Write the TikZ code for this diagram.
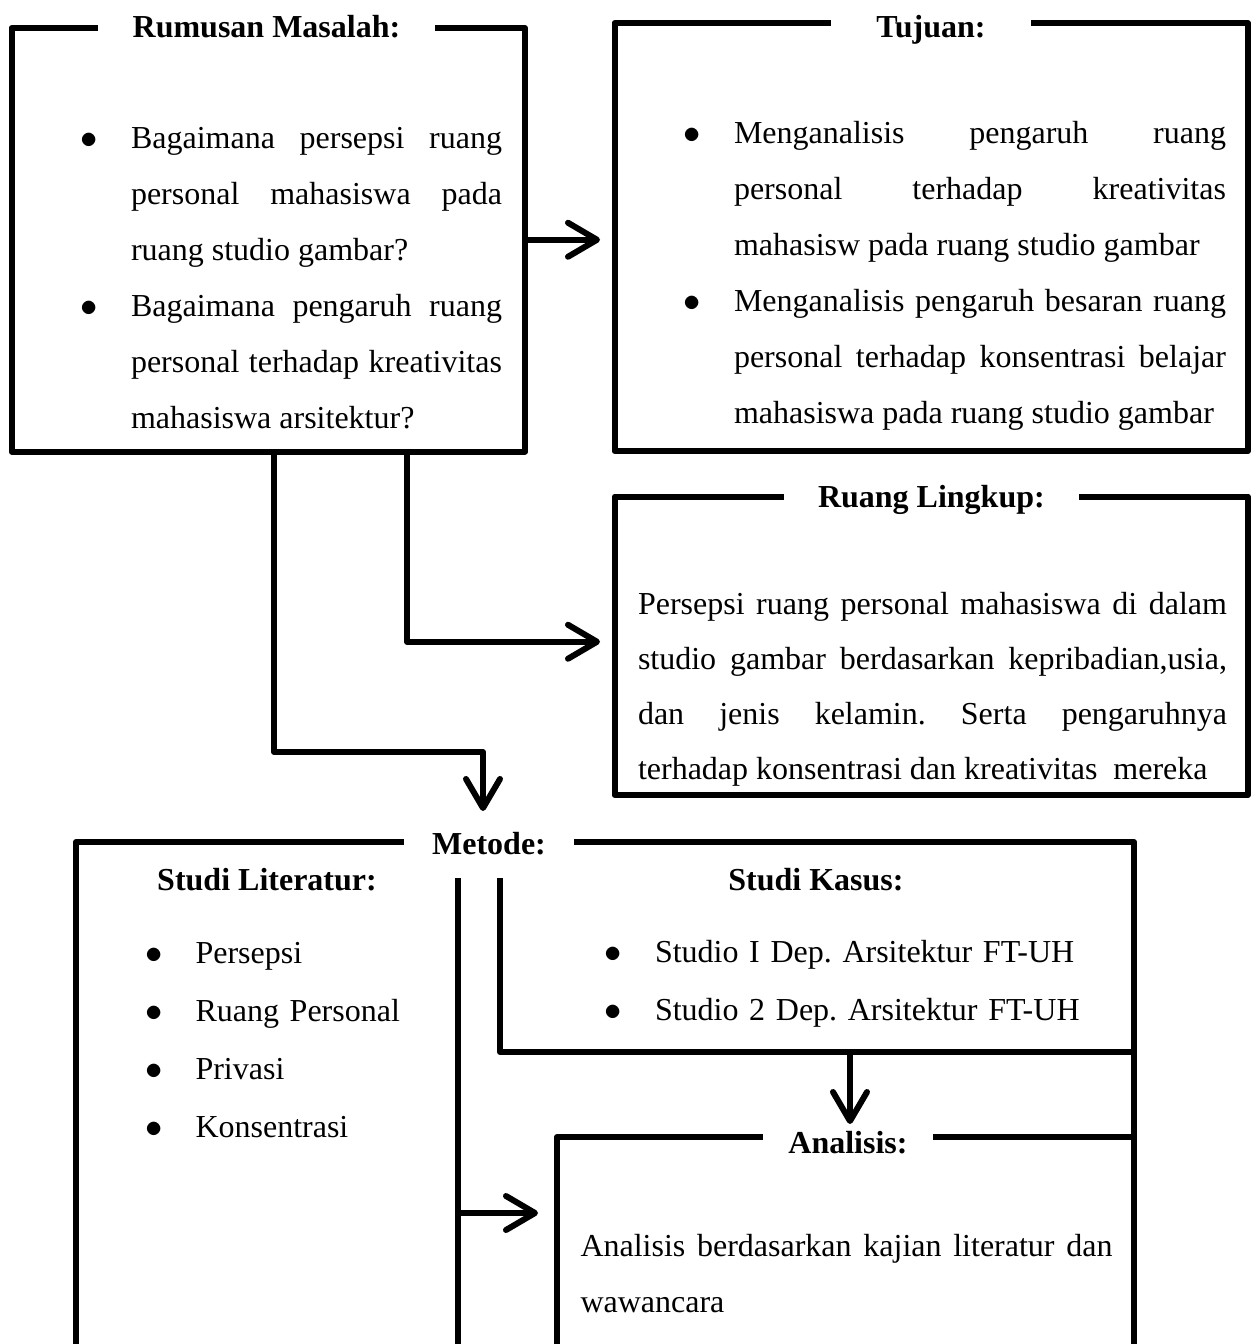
\documentclass[tikz,border=0pt]{standalone}
\usepackage{fontspec}
\setmainfont{Liberation Serif}
\usetikzlibrary{arrows.meta}
\frenchspacing
\newcommand\butir{\leavevmode\hangindent=23.5pt\hangafter=1\makebox[23.5pt][l]{\hspace{-1.75pt}$\bullet$}}

\begin{document}
\begin{tikzpicture}[x=.5pt,y=-.5pt,line width=3pt,line join=round,
      >={Straight Barb[length=14.5pt,width=17pt,round]},
      kotak/.style={draw,inner sep=0pt},
      judul/.style={fill=white,inner ysep=1pt,anchor=base,font=\fontsize{16}{28}\selectfont\bfseries},
      isi/.style={inner sep=0pt,anchor=base west,align=justify,font=\fontsize{16}{28}\selectfont},
      daftar/.style={inner sep=0pt,anchor=base west,align=left,text width=300pt,font=\fontsize{16}{29}\selectfont}]
      \useasboundingbox (0,0) rectangle (1253,1344);
      \clip (0,0) rectangle (1253,1344);
      \node[kotak,minimum width=256.75pt,minimum height=211.75pt] (rumusan) at (268.25,239.75) {};
      \node[kotak,minimum width=316.75pt,minimum height=214pt] (tujuan) at (931.25,237) {};
      \node[kotak,minimum width=316.75pt,minimum height=149.25pt] (lingkup) at (931.25,645.75) {};
      \node[kotak,minimum width=529pt,minimum height=289pt] (metode) at (605,1131) {};
      \node[kotak,minimum width=288.5pt,minimum height=141.5pt] (analisis) at (845.5,1278.5) {};
      \node[judul,inner xsep=17.5pt] (t-rumusan) at (266.5,37) {Rumusan Masalah:};
      \node[judul,inner xsep=22.5pt] (t-tujuan) at (931,37) {Tujuan:};
      \node[judul,inner xsep=17pt] (t-lingkup) at (931.4,507) {Ruang Lingkup:};
      \node[judul,inner xsep=14pt] (t-metode) at (489,854) {Metode:};
      \node[judul,inner xsep=12.5pt] (t-analisis) at (848,1153) {Analisis:};
      \node[judul,fill=none] (t-literatur) at (267,890) {Studi Literatur:};
      \node[judul,fill=none] (t-kasus) at (816,890) {Studi Kasus:};
      \node[isi,text width=209pt] (isi-rumusan) at (81,148)
            {\butir Bagaimana persepsi ruang\linebreak personal mahasiswa pada\linebreak ruang studio gambar?\par
             \butir Bagaimana pengaruh ruang\linebreak personal terhadap kreativitas\linebreak mahasiswa arsitektur?\par};
      \node[isi,text width=269.5pt] (isi-tujuan) at (684,143)
            {\butir Menganalisis pengaruh ruang\linebreak personal terhadap kreativitas\linebreak mahasisw pada ruang studio gambar\par
             \butir Menganalisis pengaruh besaran ruang\linebreak personal terhadap konsentrasi belajar\linebreak mahasiswa pada ruang studio gambar\par};
      \node[isi,text width=294.5pt,font=\fontsize{16}{27.5}\selectfont] (isi-lingkup) at (635,614)
            {Persepsi ruang personal mahasiswa di dalam\linebreak studio gambar berdasarkan kepribadian,usia,\linebreak
             dan jenis kelamin. Serta pengaruhnya\linebreak terhadap konsentrasi dan kreativitas\ \ mereka};
      \node[isi,text width=266pt] (isi-analisis) at (577.5,1256)
            {Analisis berdasarkan kajian literatur dan\linebreak wawancara};
      \node[daftar] (isi-literatur) at (145.5,963)
            {\butir Persepsi\par\butir Ruang Personal\par\butir Privasi\par\butir Konsentrasi\par};
      \node[daftar] (isi-kasus) at (605,962)
            {\butir Studio I Dep. Arsitektur FT-UH\par\butir Studio 2 Dep. Arsitektur FT-UH\par};
      \coordinate (k0) at (407,642);
      \coordinate (k1) at (274,752);
      \coordinate (k2) at (483,752);
      \coordinate (g1) at (458,878);
      \coordinate (g2) at (458,1213);
      \coordinate (s1) at (500,878);
      \coordinate (s2) at (500,1052);
      \coordinate (s3) at (850,1052);
      \draw[->,shorten >=5.75pt] (rumusan.east) -- (rumusan.east -| tujuan.west);
      \draw[->,shorten >=5.75pt] (rumusan.south -| k0) |- ([yshift=2pt]lingkup.west);
      \draw[->,shorten >=14pt] (rumusan.south -| k1) -- (k1) -- (k2) -- (k2 |- metode.north);
      \draw (g1) -- (g1 |- metode.south);
      \draw (s1) -- (s2) -- (s2 -| metode.east);
      \draw[->,shorten >=8pt] (g2) -- (g2 -| analisis.west);
      \draw[->,shorten >=5pt] (s3) -- (s3 |- analisis.north);
\end{tikzpicture}
\end{document}
